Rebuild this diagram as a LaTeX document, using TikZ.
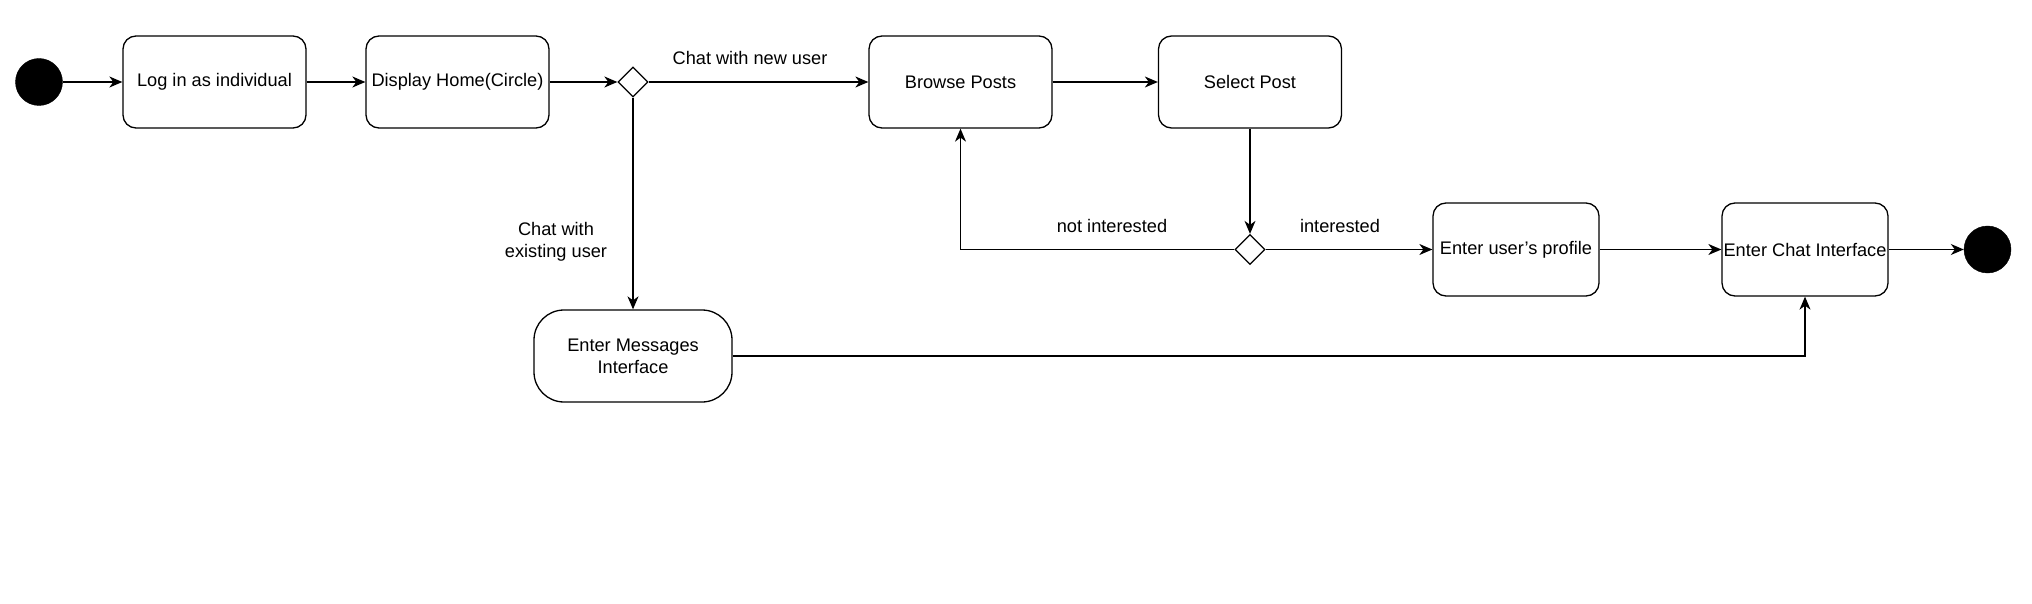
\documentclass[tikz,border=0pt]{standalone}
\usepackage{fontspec}
\setmainfont{Liberation Sans}
\usetikzlibrary{shapes.geometric,arrows.meta}
\begin{document}
\begin{tikzpicture}[x=1pt,y=-1pt,
  every node/.style={font=\fontsize{18.2}{22}\selectfont},
  state/.style={draw,line width=1.3pt,rounded corners=13pt,minimum width=183pt,minimum height=92pt,inner sep=1pt,align=center},
  smallstate/.style={state,minimum width=166pt,minimum height=93pt},
  bigstate/.style={state,rounded corners=30pt,minimum width=198pt,minimum height=92pt},
  dot/.style={circle,fill=black,draw=black,minimum size=47pt,inner sep=0pt},
  choice/.style={diamond,draw,line width=1.3pt,minimum size=30pt,inner sep=0pt,aspect=1},
  flow/.style={line width=1.3pt,-{Stealth[length=13pt,width=11pt,inset=4pt]}},
  lbl/.style={align=center,inner sep=0pt}]
\fill[white] (0,0) rectangle (2032,604);
\useasboundingbox (0,0) rectangle (2032,604);

\node[dot] (start) at (39,82) {};
\node[state] (login) at (214.5,82) {Log in as individual};
\node[state] (home) at (457.5,82) {Display Home(Circle)};
\node[choice] (d1) at (633,82) {};
\node[state] (browse) at (960.5,82) {Browse Posts};
\node[state] (select) at (1250,82) {Select Post};
\node[choice] (d2) at (1250,249.5) {};
\node[smallstate] (profile) at (1516,249.5) {Enter user's profile};
\node[smallstate] (chat) at (1805,249.5) {Enter Chat Interface};
\node[dot] (end) at (1987.5,249.5) {};
\node[bigstate] (msg) at (633,356) {Enter Messages\\Interface};

\draw[flow] (start) -- (login);
\draw[flow] (login) -- (home);
\draw[flow] (home) -- (d1);
\draw[flow] (d1) -- (browse);
\node[lbl] (lnew) at (750,58) {Chat with new user};
\draw[flow] (browse) -- (select);
\draw[flow] (select) -- (d2);
\draw[flow] (d2.west) -| (browse.south);
\node[lbl] (lnot) at (1112,226) {not interested};
\draw[flow] (d2) -- (profile);
\node[lbl] (lint) at (1340,226) {interested};
\draw[flow] (profile) -- (chat);
\draw[flow] (chat) -- (end);
\draw[flow] (d1) -- (msg);
\node[lbl] (lexist) at (556,242) {Chat with\\existing user};
\draw[flow] (msg.east) -| (chat.south);
\end{tikzpicture}
\end{document}
